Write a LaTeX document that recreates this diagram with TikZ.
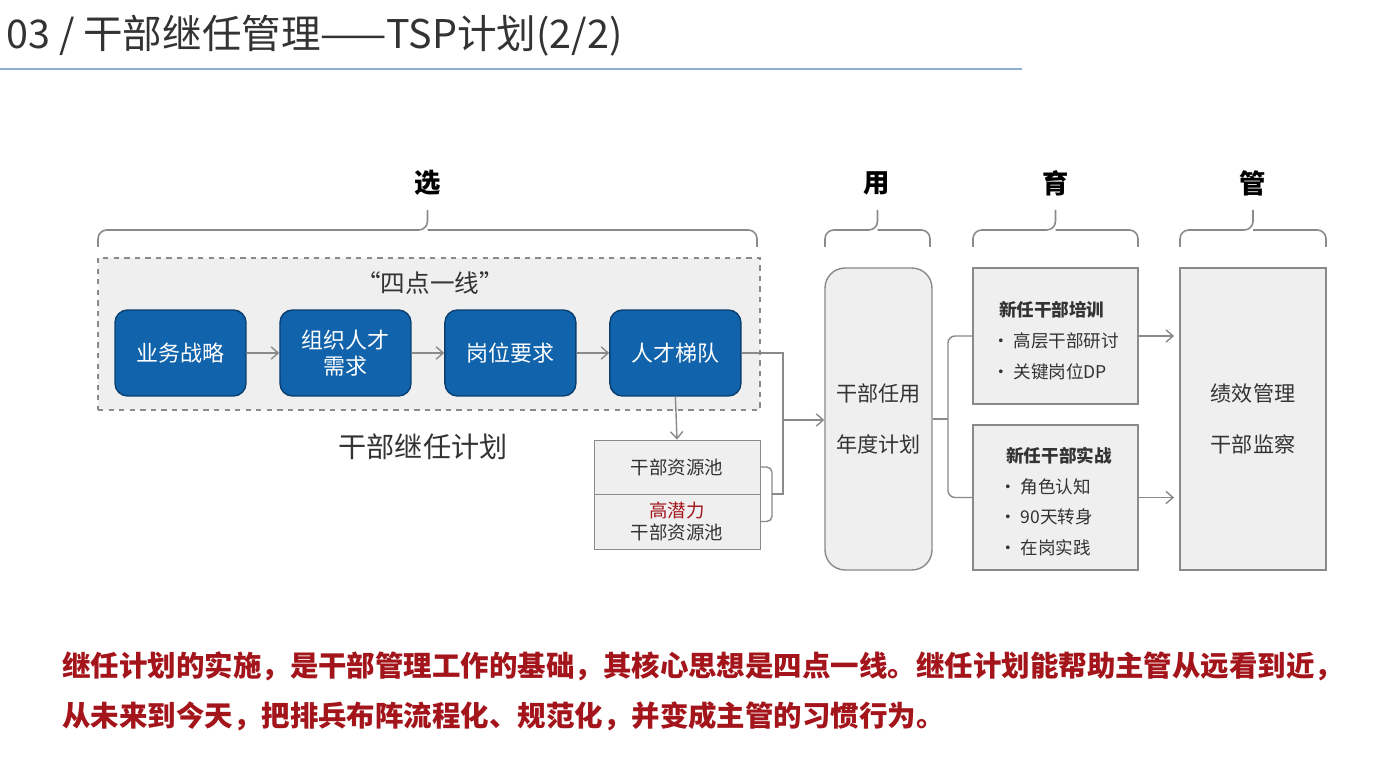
\documentclass[tikz,border=0pt]{standalone}
\usepackage{fontspec}
\setmainfont{Noto Sans CJK SC}
\usetikzlibrary{positioning, arrows.meta}
\definecolor{tspblue}{HTML}{1163AB}
\definecolor{tspedge}{HTML}{0B3F70}
\definecolor{boxgray}{HTML}{EFEFEF}
\definecolor{linegray}{HTML}{8A8A8A}
\definecolor{txtgray}{HTML}{333333}
\definecolor{tspred}{HTML}{A3141B}
\definecolor{rulecol}{HTML}{8DB0D3}

\begin{document}
\begin{tikzpicture}[x=0.02cm, y=-0.02cm, node distance=3.3cm, on grid,
   >={Straight Barb[length=4pt,width=7pt]},
   conn/.style={draw=linegray, line width=0.8pt},
   head/.style={font=\fontsize{15}{18}\selectfont\bfseries, text=black},
   bluebox/.style={draw=tspedge, fill=tspblue, rounded corners=0.25cm, line width=0.8pt,
      minimum width=2.62cm, minimum height=1.72cm, text=white, align=center,
      font=\fontsize{12.5}{15}\selectfont},
   pool/.style={draw=linegray, fill=boxgray, minimum width=3.32cm, text=txtgray,
      align=center, font=\fontsize{10.5}{13}\selectfont},
   panel/.style={draw=linegray, fill=boxgray, line width=0.8pt, text=txtgray,
      font=\fontsize{12}{14}\selectfont, align=center},
   item/.style={text=txtgray, align=left, inner sep=0pt,
      font=\fontsize{10}{17.6}\selectfont},
   note/.style={anchor=west, text=tspred, inner sep=0pt,
      font=\fontsize{16.2}{19}\selectfont\bfseries}]
   \useasboundingbox[fill=white] (0,0) rectangle (1394,763);

   % title
   \node[anchor=west, inner sep=0pt, text=txtgray, font=\fontsize{22.5}{26}\selectfont]
      (title) at (6,36) {03 / 干部继任管理——TSP计划(2/2)};
   \draw[rulecol, line width=1.6pt] (0,69) -- (1022,69);

   % headings and braces
   \node[head] (xuan) at (428,183) {选};
   \node[head] (yonghd) at (877,183) {用};
   \node[head] (yuhd) at (1056,183) {育};
   \node[head] (guanhd) at (1253,183) {管};
   \foreach \l/\r in {98/757, 825/930, 973/1138, 1180/1326}
      \draw[linegray, line width=0.9pt, rounded corners=5pt]
         (\l,247) -- (\l,230) -- ({(\l+\r)/2},230) -- ({(\l+\r)/2},210)
         ({(\l+\r)/2},230) -- (\r,230) -- (\r,247);

   % four points one line
   \node[draw=linegray, dashed, fill=boxgray, line width=0.8pt,
      minimum width=13.24cm, minimum height=3.04cm] (sidx) at (429,334) {};
   \node[text=txtgray, font=\fontsize{14}{17}\selectfont] (sdtitle) at (430,283) {“四点一线”};
   \node[bluebox] (ywzl) at (180.5,353) {业务战略};
   \node[bluebox, right=of ywzl] (zzrc) {组织人才\\需求};
   \node[bluebox, right=of zzrc] (gwyq) {岗位要求};
   \node[bluebox, right=of gwyq] (rctd) {人才梯队};
   \path[conn, ->]
    (ywzl) edge (zzrc)
    (zzrc) edge (gwyq)
    (gwyq) edge (rctd);
   \node[text=txtgray, font=\fontsize{16}{19}\selectfont] (jrjh) at (423,447) {干部继任计划};

   % resource pools
   \node[pool, minimum height=1.08cm] (pool1) at (677,467) {干部资源池};
   \node[pool, minimum height=1.1cm] (pool2) at (677,521.5) {{\color{tspred}高潜力}\\干部资源池};
   \draw[conn, ->] (rctd.south) -- (pool1.north);
   \coordinate (jn) at (783,420);
   \coordinate (pb) at (772,494);
   \draw[conn, rounded corners=3pt] (pool1.east) -| (pb) |- (pool2.east);
   \draw[conn] (rctd.east) -| (jn) |- (pb);

   % use
   \node[panel, rounded corners=0.4cm, minimum width=2.14cm, minimum height=6.04cm]
      (yong) at (878.5,419) {干部任用\\[15pt]年度计划};
   \draw[conn, ->] (jn) -- (yong.west |- jn);

   % develop
   \node[panel, minimum width=3.3cm, minimum height=2.72cm] (pei) at (1055.5,336) {};
   \node[item] (peitxt) at ([yshift=-2.6pt]pei.center) {\hspace*{4pt}\textbf{新任干部培训}\\• 高层干部研讨\\• 关键岗位DP};
   \node[panel, minimum width=3.3cm, minimum height=2.9cm] (shi) at (1055.5,497.5) {};
   \node[item] (shitxt) at ([yshift=-2.3pt]shi.center) {\hspace*{4pt}\textbf{新任干部实战}\\• 角色认知\\• 90天转身\\• 在岗实践};
   \coordinate (yj) at (948,419);
   \draw[conn, rounded corners=4pt] (pei.west) -| (yj) |- (shi.west);
   \draw[conn] (yong.east) -- (yj);

   % manage
   \node[panel, minimum width=2.92cm, minimum height=6.04cm]
      (guan) at (1253,419) {绩效管理\\[15pt]干部监察};
   \draw[conn, ->, shorten >=3pt] (pei.east) -- (pei.east -| guan.west);
   \draw[conn, ->, shorten >=3pt] (shi.east) -- (shi.east -| guan.west);

   % closing note
   \node[note] (note1) at (62,666) {继任计划的实施，是干部管理工作的基础，其核心思想是四点一线。继任计划能帮助主管从远看到近，};
   \node[note] (note2) at (62,716) {从未来到今天，把排兵布阵流程化、规范化，并变成主管的习惯行为。};
\end{tikzpicture}
\end{document}
